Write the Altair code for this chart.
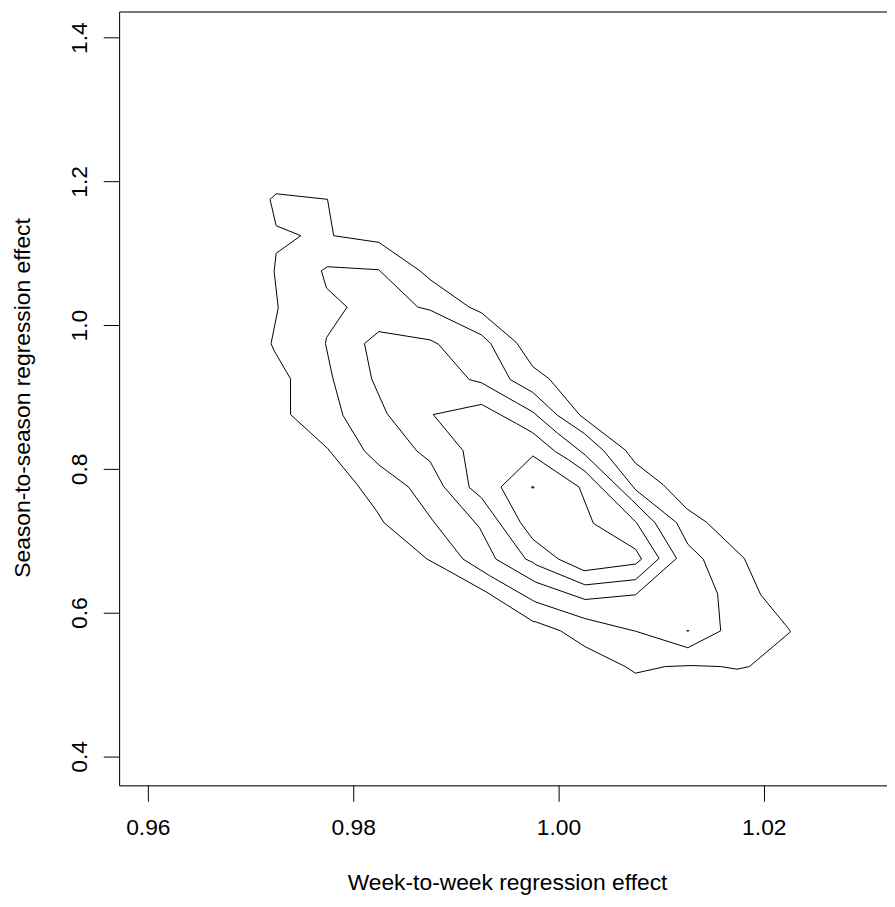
import altair as alt
import pandas as pd

# Contour polylines (data units), outermost first
c1_x = [0.9725, 0.9775, 0.9781, 0.9825, 0.9865, 0.9875, 0.9913, 0.9925, 0.9959, 0.9975,
        0.9991, 1.0021, 1.0065, 1.0075, 1.0102, 1.0125, 1.0144, 1.0181, 1.0197, 1.0224,
        1.0226, 1.0186, 1.0174, 1.0158, 1.0129, 1.0104, 1.0075, 1.0065, 1.0026, 1.0002,
        0.9978, 0.9975, 0.9930, 0.9891, 0.9872, 0.9830, 0.9823, 0.9804, 0.9775, 0.9739,
        0.9739, 0.9723, 0.9720, 0.9727, 0.9723, 0.9725, 0.9749, 0.9725, 0.9719, 0.9725]
c1_y = [1.1827, 1.1750, 1.1244, 1.1151, 1.0756, 1.0632, 1.0250, 1.0171, 0.9757, 0.9422,
        0.9252, 0.8745, 0.8262, 0.8079, 0.7779, 0.7444, 0.7259, 0.6754, 0.6247, 0.5778,
        0.5732, 0.5249, 0.5212, 0.5249, 0.5263, 0.5249, 0.5157, 0.5249, 0.5525, 0.5746,
        0.5870, 0.5879, 0.6284, 0.6596, 0.6744, 0.7251, 0.7411, 0.7779, 0.8286, 0.8755,
        0.9252, 0.9643, 0.9743, 1.0240, 1.0747, 1.0999, 1.1244, 1.1382, 1.1750, 1.1827]

c2_x = [0.9775, 0.9825, 0.9863, 0.9875, 0.9925, 0.9934, 0.9953, 0.9975, 0.9999, 1.0025,
        1.0044, 1.0075, 1.0115, 1.0126, 1.0141, 1.0155, 1.0158, 1.0126, 1.0075, 1.0026,
        0.9978, 0.9975, 0.9933, 0.9907, 0.9878, 0.9854, 0.9825, 0.9811, 0.9790, 0.9780,
        0.9773, 0.9774, 0.9794, 0.9774, 0.9769, 0.9775]
c2_y = [1.0812, 1.0770, 1.0250, 1.0208, 0.9863, 0.9743, 0.9242, 0.9063, 0.8745, 0.8493,
        0.8253, 0.7710, 0.7251, 0.6951, 0.6744, 0.6261, 0.5746, 0.5511, 0.5741, 0.5916,
        0.6146, 0.6168, 0.6513, 0.6744, 0.7273, 0.7747, 0.8055, 0.8248, 0.8745, 0.9274,
        0.9743, 0.9826, 1.0250, 1.0516, 1.0756, 1.0812]

c3_x = [0.9811, 0.9825, 0.9875, 0.9883, 0.9913, 0.9925, 0.9959, 0.9975, 0.9999, 1.0026,
        1.0071, 1.0094, 1.0115, 1.0075, 1.0026, 0.9978, 0.9939, 0.9923, 0.9888, 0.9875,
        0.9862, 0.9833, 0.9818, 0.9811]
c3_y = [0.9743, 0.9909, 0.9794, 0.9735, 0.9242, 0.9197, 0.8921, 0.8791, 0.8497, 0.8193,
        0.7572, 0.7251, 0.6754, 0.6247, 0.6182, 0.6422, 0.6744, 0.7182, 0.7756, 0.8101,
        0.8248, 0.8769, 0.9252, 0.9743]

c4_x = [0.9878, 0.9925, 0.9959, 0.9975, 0.9997, 1.0010, 1.0026, 1.0076, 1.0098, 1.0075,
        1.0026, 0.9978, 0.9975, 0.9968, 0.9925, 0.9913, 0.9907, 0.9878]
c4_y = [0.8755, 0.8897, 0.8631, 0.8501, 0.8239, 0.8124, 0.7963, 0.7251, 0.6754, 0.6458,
        0.6385, 0.6665, 0.6698, 0.6744, 0.7596, 0.7742, 0.8253, 0.8755]

c5_x = [0.9944, 0.9975, 1.0020, 1.0034, 1.0075, 1.0081, 1.0075, 1.0025, 1.0000, 0.9975,
        0.9963, 0.9944]
c5_y = [0.7747, 0.8179, 0.7747, 0.7241, 0.6882, 0.6744, 0.6675, 0.6582, 0.6744, 0.7020,
        0.7251, 0.7747]

# tiny innermost contours (look like dots)
d1_x = [0.9974, 0.9976, 0.9976, 0.9974, 0.9974]
d1_y = [0.7735, 0.7735, 0.7750, 0.7750, 0.7735]
d2_x = [1.0125, 1.0127, 1.0127, 1.0125, 1.0125]
d2_y = [0.5745, 0.5745, 0.5748, 0.5748, 0.5745]

x_ticks = [0.96, 0.98, 1.00, 1.02]
y_ticks = [0.4, 0.6, 0.8, 1.0, 1.2, 1.4]

x_title = "Week-to-week regression effect"
y_title = "Season-to-season regression effect"

contours = [(c1_x, c1_y), (c2_x, c2_y), (c3_x, c3_y), (c4_x, c4_y),
            (c5_x, c5_y), (d1_x, d1_y), (d2_x, d2_y)]
rows = []
for lvl, (xs, ys) in enumerate(contours):
    for i, (xv, yv) in enumerate(zip(xs, ys)):
        rows.append({"piece": lvl, "idx": i, "x": xv, "y": yv})
df = pd.DataFrame(rows)

FONT = "Liberation Sans"
FS = 23

xscale = alt.Scale(domain=[0.9572, 1.0320], nice=False, zero=False)
yscale = alt.Scale(domain=[0.3596, 1.4363], nice=False, zero=False)

base = alt.Chart(df)

lines = base.mark_line(color="black", strokeWidth=1).encode(
    x=alt.X("x:Q", scale=xscale,
            axis=alt.Axis(values=x_ticks, format=".2f", title=x_title, orient="bottom",
                          grid=False, tickSize=16, tickColor="black", tickWidth=1,
                          domainColor="black", domainWidth=1,
                          labelPadding=16, labelBaseline="top", labelAlign="center",
                          labelFont=FONT, labelFontSize=FS, labelColor="black",
                          labelFlush=False, labelOverlap=False,
                          titleFont=FONT, titleFontSize=FS, titleFontWeight="normal",
                          titleColor="black", titleX=391, titleY=105,
                          titleBaseline="alphabetic", titleAlign="center")),
    y=alt.Y("y:Q", scale=yscale,
            axis=alt.Axis(values=y_ticks, format=".1f", title=y_title, orient="left",
                          grid=False, tickSize=16, tickColor="black", tickWidth=1,
                          domainColor="black", domainWidth=1,
                          labelAngle=270, labelAlign="center", labelBaseline="alphabetic",
                          labelPadding=17, labelFont=FONT, labelFontSize=FS,
                          labelColor="black", labelFlush=False, labelOverlap=False,
                          titleFont=FONT, titleFontSize=FS, titleFontWeight="normal",
                          titleColor="black", titleAngle=270, titleX=-90, titleY=389,
                          titleBaseline="alphabetic", titleAlign="center")),
    detail="piece:N",
    order="idx:Q",
)

top_border = base.mark_line(opacity=0).encode(
    x=alt.X("x:Q", scale=xscale,
            axis=alt.Axis(orient="top", labels=False, ticks=False, grid=False, title="",
                          domainColor="black", domainWidth=1)),
    y=alt.Y("y:Q", scale=yscale),
    detail="piece:N",
    order="idx:Q",
)

chart = (
    alt.layer(lines, top_border)
    .resolve_axis(x="independent")
    .properties(width=774, height=780,
                autosize=alt.AutoSizeParams(type="none"),
                padding={"left": 112, "top": 0, "right": 0, "bottom": 110})
    .configure_view(stroke=None)
    .configure(background="white")
)

chart.save("out.html", embed_options={"renderer": "svg", "actions": False})
